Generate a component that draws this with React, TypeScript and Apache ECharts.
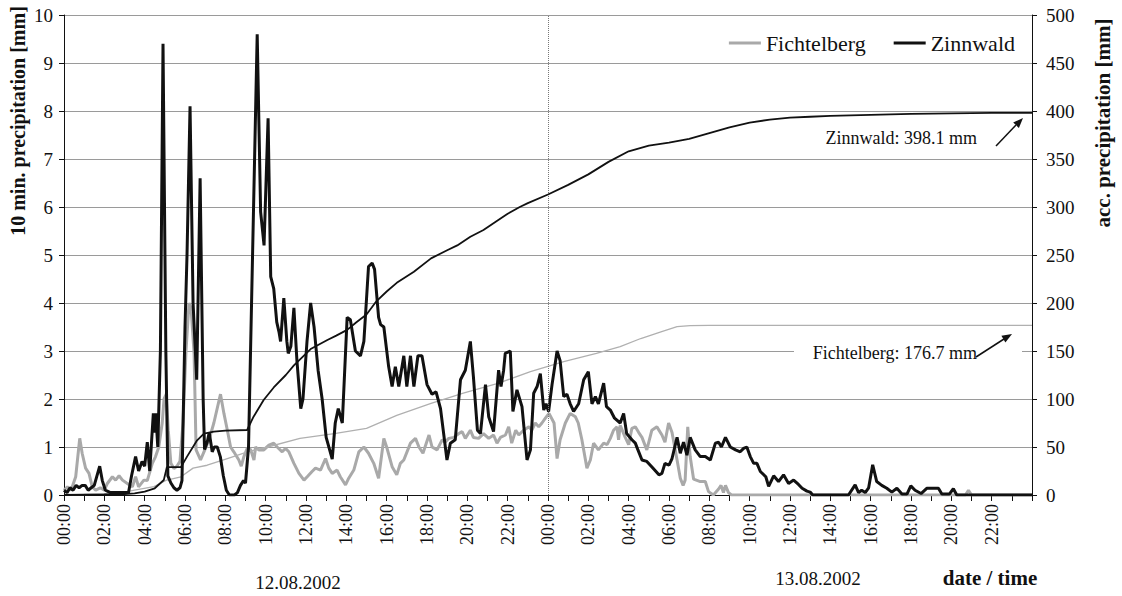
import React, { useEffect, useRef } from "react";
import * as echarts from "echarts";

// ---- 10-min precipitation, Zinnwald (time in hours since 12.08.2002 00:00, value mm)
const zinnTime = [0,0.15,0.3,0.45,0.6,0.75,0.9,1.05,1.2,1.35,1.5,1.77,1.9,2.05,2.3,2.6,2.9,3.2,3.35,3.55,3.7,3.87,4.0,4.13,4.25,4.43,4.5,4.55,4.65,4.78,4.91,5.05,5.15,5.3,5.45,5.6,5.75,5.85,6.0,6.1,6.25,6.4,6.58,6.75,6.9,6.97,7.1,7.2,7.35,7.45,7.6,7.75,7.9,8.05,8.2,8.45,8.6,8.75,8.9,9.0,9.15,9.35,9.58,9.75,9.92,10.12,10.25,10.4,10.55,10.66,10.74,10.9,11.05,11.12,11.25,11.4,11.55,11.74,11.85,12.05,12.23,12.4,12.6,12.8,13.0,13.3,13.45,13.6,13.8,14.04,14.2,14.45,14.7,14.87,15.1,15.28,15.4,15.6,15.7,15.86,16.1,16.27,16.43,16.6,16.85,17.0,17.18,17.35,17.55,17.75,18.0,18.25,18.45,18.67,18.99,19.16,19.4,19.66,19.9,20.15,20.3,20.5,20.65,20.9,21.06,21.3,21.55,21.67,21.8,21.88,22.13,22.26,22.46,22.71,22.96,23.13,23.29,23.46,23.62,23.79,23.9,24.03,24.2,24.45,24.6,24.78,24.94,25.1,25.27,25.52,25.77,26.0,26.18,26.35,26.5,26.76,26.9,27.09,27.3,27.58,27.75,27.9,28.16,28.33,28.45,28.66,28.9,29.2,29.5,29.65,29.8,30.0,30.15,30.4,30.56,30.72,30.89,31.05,31.3,31.55,31.8,32.05,32.3,32.46,32.6,32.8,33.04,33.3,33.53,33.7,33.86,34.03,34.2,34.36,34.53,34.8,34.94,35.19,35.43,35.68,35.93,36.18,36.42,36.6,36.84,37.0,37.13,38.9,39.23,39.4,39.55,39.73,39.9,40.1,40.3,40.55,40.8,41.05,41.3,41.55,41.8,41.99,42.2,42.5,42.78,43.03,43.36,43.53,43.9,44.1,44.27,48];
const zinnValue = [0.1,0.05,0.15,0.1,0.2,0.15,0.2,0.2,0.1,0.15,0.2,0.6,0.3,0.1,0.05,0.05,0.05,0.05,0.4,0.8,0.5,0.7,0.6,1.1,0.5,1.7,1.3,1.7,1.0,3.0,9.4,3.0,0.4,0.25,0.15,0.1,0.15,0.3,3.5,5.0,8.1,4.0,2.4,6.6,2.0,0.95,1.1,1.3,0.9,1.0,1.0,0.8,0.4,0.1,0,0,0.05,0.2,0.3,0.25,1.0,5.0,9.6,5.9,5.2,7.85,4.55,4.3,3.6,3.4,3.2,4.1,3.2,2.95,3.1,3.9,2.8,1.8,2.0,3.2,4.0,3.5,2.6,2.0,1.2,0.75,1.5,1.8,1.5,3.7,3.65,3.0,2.9,3.2,4.76,4.83,4.7,3.7,3.55,3.5,2.67,2.26,2.67,2.26,2.9,2.26,2.9,2.26,2.9,2.9,2.3,2.1,2.15,1.8,0.73,1.08,1.15,2.4,2.6,3.2,2.47,1.35,1.28,2.3,1.63,1.32,2.6,2.26,2.6,2.95,3.0,1.74,2.19,1.84,0.73,0.94,2.12,2.26,2.53,1.77,1.9,1.74,2.3,3.0,2.8,2.05,2.1,1.9,1.74,1.9,2.4,2.57,1.9,2.05,1.9,2.33,1.84,1.77,1.6,1.5,1.7,1.28,1.15,1.08,0.95,0.73,0.7,0.56,0.42,0.45,0.66,0.62,0.76,1.2,0.87,1.1,0.83,1.2,0.94,0.8,0.8,0.73,1.08,1.1,1.0,1.2,1.0,0.94,0.9,0.97,1.0,0.8,0.66,0.66,0.49,0.38,0.18,0.4,0.28,0.42,0.24,0.31,0.22,0.14,0.08,0.06,0,0,0.21,0.05,0.1,0.05,0.15,0.63,0.28,0.2,0.14,0.06,0.14,0.02,0.02,0.19,0.1,0.03,0.14,0.14,0.14,0.02,0.02,0.13,0,0];

// ---- 10-min precipitation, Fichtelberg
const fichTime = [0,0.17,0.35,0.58,0.78,0.9,1.07,1.24,1.4,1.57,1.8,2.0,2.15,2.4,2.56,2.73,2.9,3.14,3.39,3.55,3.7,3.96,4.13,4.38,4.54,4.7,4.87,4.96,5.07,5.17,5.3,5.45,5.6,5.75,5.9,6.05,6.2,6.3,6.45,6.55,6.77,6.94,7.19,7.43,7.76,7.93,8.1,8.26,8.42,8.67,8.79,8.92,9.08,9.25,9.42,9.5,9.66,9.91,10.16,10.4,10.57,10.82,10.98,11.15,11.4,11.65,11.9,12.06,12.3,12.47,12.72,12.97,13.13,13.3,13.54,13.7,13.96,14.12,14.37,14.62,14.87,15.1,15.36,15.6,15.86,16.0,16.27,16.5,16.68,16.85,17.18,17.43,17.6,17.8,18.1,18.25,18.5,18.75,18.9,19.08,19.33,19.58,19.74,19.9,20.15,20.3,20.56,20.8,21.06,21.3,21.47,21.64,21.89,22.05,22.2,22.4,22.55,22.8,23.05,23.2,23.37,23.54,23.7,23.87,24.05,24.3,24.45,24.6,24.86,25.1,25.36,25.5,25.68,25.93,26.1,26.26,26.5,26.76,26.93,27.09,27.25,27.42,27.5,27.58,27.83,28.0,28.16,28.33,28.5,28.66,28.9,29.15,29.4,29.65,29.8,29.98,30.15,30.4,30.56,30.7,30.8,30.93,31.05,31.22,31.55,31.8,31.96,32.2,32.45,32.58,32.7,32.8,32.95,33.1,44.7,44.85,45.0,48];
const fichValue = [0.1,0.17,0.1,0.38,1.18,0.87,0.56,0.45,0.17,0.1,0.15,0.1,0.24,0.38,0.31,0.4,0.31,0.24,0.17,0.38,0.17,0.31,0.3,0.66,0.8,1.0,1.5,2.0,2.1,1.35,0.66,0.55,0.6,0.7,1.5,3.0,4.0,3.9,2.95,0.94,0.73,0.9,1.15,1.5,2.1,1.7,1.35,1.0,0.9,0.73,0.6,0.8,0.97,0.95,0.73,1.0,0.94,0.94,1.04,1.08,1.0,0.9,0.97,0.9,0.66,0.45,0.31,0.38,0.49,0.56,0.52,0.76,0.56,0.45,0.52,0.38,0.21,0.35,0.52,0.9,1.0,0.87,0.66,0.35,1.18,1.0,0.59,0.42,0.66,0.73,1.08,1.18,1.0,0.87,1.25,1.0,0.94,1.15,1.1,1.18,1.2,1.28,1.32,1.18,1.35,1.2,1.18,1.28,1.18,1.25,1.08,1.2,1.25,1.42,1.08,1.35,1.25,1.35,1.42,1.35,1.5,1.42,1.5,1.6,1.7,1.5,0.76,1.15,1.5,1.7,1.63,1.5,1.15,0.56,0.73,1.08,0.94,1.08,1.05,1.18,1.35,1.42,1.15,1.45,1.2,1.05,1.39,1.42,1.3,1.2,0.94,1.35,1.42,1.25,1.1,1.5,1.3,0.73,0.35,0.2,0.31,1.42,0.8,0.33,0.28,0.28,0.07,0,0.12,0.2,0.05,0.2,0.05,0,0,0.1,0,0];

// ---- accumulated precipitation (mm)
const zinnCumTime = [0,2,3,3.5,4,4.5,4.95,5.1,5.8,6.1,6.6,6.94,7.43,8,9.08,9.4,9.9,10.4,11,11.4,12.23,13.06,13.5,14.04,14.5,15,15.5,16,16.5,17.35,18.2,19,19.5,20.15,20.8,21.5,22,22.6,23,24,25,26,27,28,29,30,31,32,33,34,35,36,37,38,40,42,44,46,48];
const zinnCumValue = [0,0.5,1,1.7,3.5,7,15.6,29,29,40,57,64,66,67,67.7,81.6,99,112,125,135,152,161.5,166,172,180,188,202,212,221,232.6,246.5,255,260,269,276,286,293,300,304,313,323,334,347,358,364,367,371,377,383,388,391,393,394,395,396,397,397.5,398,398.1];
const fichCumTime = [0,1,2,3,3.5,4.46,5.1,5.8,6.4,7.1,8.1,9.1,10.1,11.7,13.4,15,16.5,18.2,19.8,21.47,23.13,24.78,26.4,27.58,28.6,29.6,30.4,31.05,32,48];
const fichCumValue = [0,0.5,1.5,3,5,8.7,15.6,19,28,31,38,45,50,59,64,69.5,83,95.5,106,116,128.5,139,147.6,154.5,163,170,175.3,176.5,176.7,176.7];

const leftTicks = { min: 0, max: 10, interval: 1 };
const rightTicks = { min: 0, max: 500, interval: 50 };
const hourAxis = { min: 0, max: 48, interval: 1 };
const dayLabels = ["12.08.2002", "13.08.2002"];

const serif = '"Liberation Serif", "Times New Roman", serif';
const pair = (t: number[], v: number[]) => t.map((x, i) => [x, v[i]]);
const hourLabel = (v: number) => {
  if (v % 2 !== 0 || v >= 48) return "";
  const h = v % 24;
  return (h < 10 ? "0" : "") + h + ":00";
};

export default function App() {
  const ref = useRef<HTMLDivElement>(null);
  useEffect(() => {
    if (!ref.current) return;
    const chart = echarts.init(ref.current, undefined, { renderer: "svg" });
    const txt = (text: string, x: number, y: number, font: string, align = "center", rotation = 0) => ({
      type: "text", x, y, rotation, z: 100,
      style: { text, font, fill: "#111", align, verticalAlign: "middle", textAlign: align, textVerticalAlign: "middle" },
    });
    chart.setOption({
      animation: false,
      backgroundColor: "#fff",
      textStyle: { fontFamily: serif },
      grid: { left: 64, right: 90, top: 15, bottom: 101, containLabel: false },
      legend: {
        right: 102, top: 27, icon: "rect", itemWidth: 32, itemHeight: 3, itemGap: 28,
        data: ["Fichtelberg", "Zinnwald"],
        textStyle: { fontFamily: serif, fontSize: 22, color: "#111" },
      },
      xAxis: {
        type: "value", ...hourAxis,
        axisLine: { show: true, lineStyle: { color: "#111", width: 1 } },
        axisTick: { show: true, length: 6, lineStyle: { color: "#111" } },
        splitLine: { show: false },
        axisLabel: { rotate: 90, margin: 9, fontSize: 18, color: "#111", fontFamily: serif, formatter: hourLabel, showMaxLabel: true },
      },
      yAxis: [
        {
          type: "value", ...leftTicks, position: "left",
          axisLine: { show: true, lineStyle: { color: "#111" } },
          axisTick: { show: true, length: 5, lineStyle: { color: "#111" } },
          splitLine: { show: true, lineStyle: { color: "#9a9a9a", width: 1 } },
          axisLabel: { margin: 11, fontSize: 19, color: "#111", fontFamily: serif },
        },
        {
          type: "value", ...rightTicks, position: "right",
          axisLine: { show: true, lineStyle: { color: "#111" } },
          axisTick: { show: true, length: 5, lineStyle: { color: "#111" } },
          splitLine: { show: false },
          axisLabel: { margin: 14, fontSize: 19, color: "#111", fontFamily: serif },
        },
      ],
      series: [
        {
          name: "Fichtelberg", type: "line", yAxisIndex: 0, showSymbol: false, symbol: "none",
          data: pair(fichTime, fichValue), color: "#a9a9a9",
          lineStyle: { color: "#a9a9a9", width: 3 }, z: 2,
          markLine: {
            silent: true, symbol: ["none", "none"], label: { show: false },
            lineStyle: { type: "dotted", color: "#777", width: 1 },
            data: [{ xAxis: 24 }],
          },
        },
        {
          name: "Fichtelberg acc.", type: "line", yAxisIndex: 1, showSymbol: false, symbol: "none",
          data: pair(fichCumTime, fichCumValue), lineStyle: { color: "#b0b0b0", width: 1.3 }, z: 3,
        },
        {
          name: "Zinnwald", type: "line", yAxisIndex: 0, showSymbol: false, symbol: "none",
          data: pair(zinnTime, zinnValue), color: "#111",
          lineStyle: { color: "#111", width: 3 }, z: 4,
        },
        {
          name: "Zinnwald acc.", type: "line", yAxisIndex: 1, showSymbol: false, symbol: "none",
          data: pair(zinnCumTime, zinnCumValue), lineStyle: { color: "#111", width: 1.8 }, z: 5,
        },
      ],
      graphic: [
        txt("10 min. precipitation [mm]", 18, 121, `bold 20px ${serif}`, "center", Math.PI / 2),
        txt("acc. precipitation [mm]", 1103, 123, `bold 21px ${serif}`, "center", Math.PI / 2),
        txt(dayLabels[0], 298, 582, `19px ${serif}`),
        txt(dayLabels[1], 818, 578, `19px ${serif}`),
        txt("date / time", 990, 578, `bold 21px ${serif}`),
        { type: "rect", z: 99, shape: { x: 794, y: 341, width: 228, height: 24 }, style: { fill: "#fff" } },
        txt("Fichtelberg: 176.7 mm", 977, 353, `18px ${serif}`, "right"),
        { type: "line", z: 100, shape: { x1: 976, y1: 357, x2: 1004, y2: 339 }, style: { stroke: "#111", lineWidth: 1.5 } },
        { type: "polygon", z: 100, shape: { points: [[1012, 334], [1005.4, 342.5], [1001.4, 335.7]] }, style: { fill: "#111" } },
        txt("Zinnwald: 398.1 mm", 977, 138, `18px ${serif}`, "right"),
        { type: "line", z: 100, shape: { x1: 996, y1: 146, x2: 1016, y2: 125 }, style: { stroke: "#111", lineWidth: 1.5 } },
        { type: "polygon", z: 100, shape: { points: [[1023, 118], [1018.9, 128], [1013.2, 122.4]] }, style: { fill: "#111" } },
      ],
    });
    return () => chart.dispose();
  }, []);
  return (
    <div style={{ position: "fixed", left: 0, top: 0, width: 1122, height: 596, background: "#fff" }}>
      <div ref={ref} style={{ width: 1122, height: 596 }} />
    </div>
  );
}
